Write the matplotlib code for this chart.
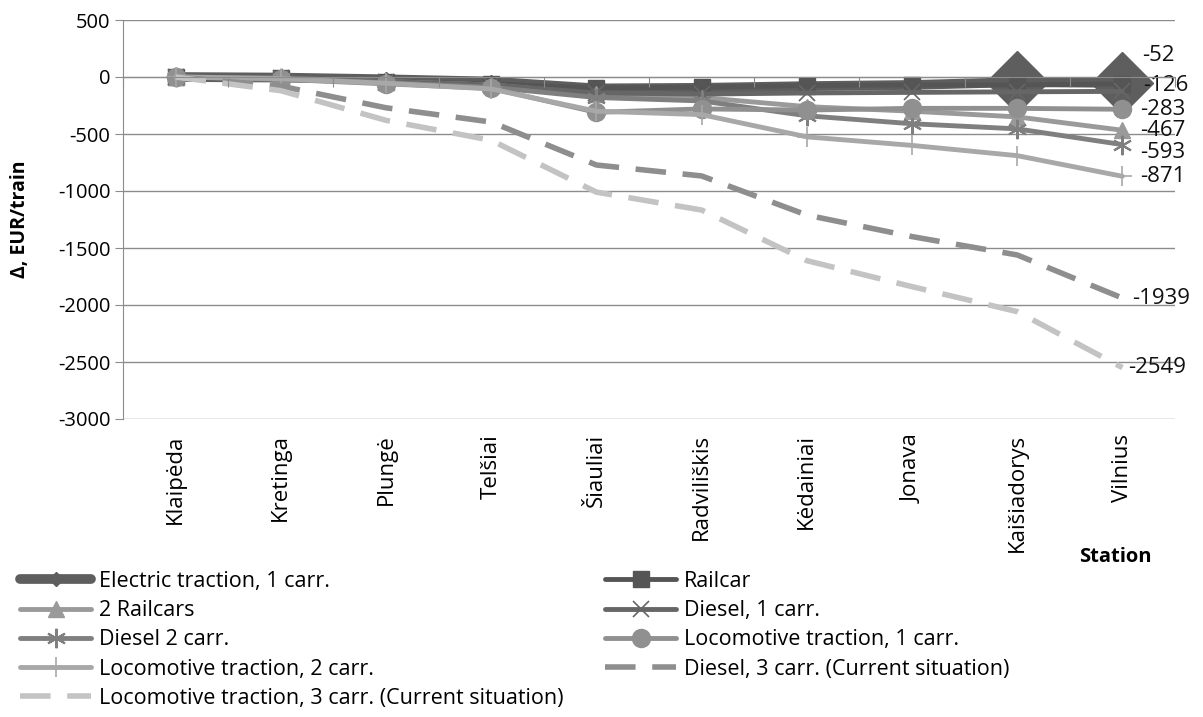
import matplotlib.pyplot as plt

stations = ["Klaipėda", "Kretinga", "Plungė", "Telšiai", "Šiauliai",
            "Radviliškis", "Kėdainiai", "Jonava", "Kaišiadorys", "Vilnius"]

electric_1 = [0, -5, -20, -40, -100, -95, -80, -70, -45, -52]
railcar = [0, -10, -40, -60, -95, -90, -75, -70, -70, -60]
railcars_2 = [0, -10, -40, -70, -150, -180, -260, -300, -350, -467]
diesel_1 = [0, -10, -40, -70, -140, -150, -140, -135, -130, -126]
diesel_2 = [0, -10, -50, -90, -180, -210, -340, -410, -455, -593]
loco_1 = [0, -20, -60, -100, -310, -280, -290, -275, -275, -283]
loco_2 = [0, -15, -55, -105, -300, -330, -525, -600, -690, -871]
diesel_3 = [0, -80, -270, -395, -772, -868, -1211, -1400, -1561, -1939]
loco_3 = [0, -120, -380, -555, -1010, -1167, -1611, -1839, -2058, -2549]

labels = ["Electric traction, 1 carr.", "Railcar", "2 Railcars", "Diesel, 1 carr.",
          "Diesel 2 carr.", "Locomotive traction, 1 carr.", "Locomotive traction, 2 carr.",
          "Diesel, 3 carr. (Current situation)", "Locomotive traction, 3 carr. (Current situation)"]

end_labels = ["-52", "-126", "-283", "-467", "-593", "-871", "-1939", "-2549"]

plt.rcParams["font.family"] = ["Open Sans", "DejaVu Sans"]
plt.rcParams["axes.unicode_minus"] = False

fig = plt.figure(figsize=(12.03, 7.17), dpi=100)
ax = fig.add_axes([123 / 1203, 1 - 419 / 717, 1052 / 1203, 399 / 717])

x = list(range(len(stations)))

# series styles: (data, color, lw, marker, ms, mew, dashes)
styles = [
    (electric_1, "#5e5e5e", 7, "D", 7, 1, None),
    (railcar, "#555555", 3.5, "s", 11, 1, None),
    (railcars_2, "#9a9a9a", 3.5, "^", 12, 1, None),
    (diesel_1, "#666666", 3.5, "x", 11, 1.2, None),
    (diesel_2, "#7f7f7f", 3.5, (6, 2, 0), 14, 1.5, None),
    (loco_1, "#909090", 3.5, "o", 13, 1, None),
    (loco_2, "#a8a8a8", 3.5, "+", 15, 1.2, None),
    (diesel_3, "#8e8e8e", 4, None, 0, 1, (5.5, 3)),
    (loco_3, "#c3c3c3", 4, None, 0, 1, (5.5, 3)),
]

handles = []
for (data, color, lw, marker, ms, mew, dashes), lab in zip(styles, labels):
    kw = dict(color=color, lw=lw, marker=marker, ms=ms, mew=mew,
              mfc=color, mec=color, solid_capstyle="round", label=lab)
    if dashes:
        kw["dashes"] = dashes
        kw["dash_capstyle"] = "butt"
    line, = ax.plot(x, data, **kw)
    handles.append(line)
    if data is electric_1:
        # enlarged markers on the last two stations
        ax.plot(x[-2:], data[-2:], ls="none", marker="D", ms=32,
                color=color, zorder=line.get_zorder())

# end value labels
labelled = [electric_1, diesel_1, loco_1, railcars_2, diesel_2, loco_2, diesel_3, loco_3]
offsets = [(14, 20), (15, 4), (13, 0), (13, 0), (13, -6), (13, 0), (7, 0), (4, 0)]
for data, txt, off in zip(labelled, end_labels, offsets):
    ax.annotate(txt, (x[-1], data[-1]), xytext=off, textcoords="offset points",
                ha="left", va="center", fontsize=16, color="#111111",
                family=["Liberation Sans Narrow", "Open Sans"], annotation_clip=False)

ax.set_xlim(-0.5, 9.5)
ax.set_ylim(-3000, 500)
ax.set_yticks(range(-3000, 501, 500))
ax.grid(axis="y", color="#8c8c8c", lw=1)
ax.set_axisbelow(True)
for s in ["top", "right", "bottom"]:
    ax.spines[s].set_visible(False)
ax.spines["left"].set_color("#8c8c8c")
ax.tick_params(axis="y", length=6, color="#8c8c8c", labelsize=14.5, pad=3)
ax.set_xticks(x)
ax.set_xticklabels(stations, rotation=90, va="top", fontsize=16)
ax.tick_params(axis="x", length=0, pad=11)
ax.set_ylabel("Δ, EUR/train", fontsize=14, fontweight="bold", labelpad=20)

# category axis at zero with ticks between stations
ax2 = ax.twiny()
ax2.set_xlim(ax.get_xlim())
ax2.xaxis.set_ticks_position("bottom")
ax2.spines["bottom"].set_position(("data", 0))
ax2.spines["bottom"].set_color("#8c8c8c")
for s in ["top", "right", "left"]:
    ax2.spines[s].set_visible(False)
ax2.set_xticks([i - 0.5 for i in range(len(stations) + 1)])
ax2.set_xticklabels([])
ax2.tick_params(axis="x", length=7, color="#8c8c8c", direction="out")

fig.text(1115 / 1203, 1 - 557 / 717, "Station", fontsize=14.5, fontweight="bold",
         ha="center", va="center")

leg_kw = dict(frameon=False, fontsize=15.5, handlelength=3.3, handletextpad=0.35,
              labelspacing=0.38, borderpad=0, borderaxespad=0, loc="upper left")
left = [handles[i] for i in (0, 2, 4, 6, 8)]
right = [handles[i] for i in (1, 3, 5, 7)]
fig.legend(left, [h.get_label() for h in left],
           bbox_to_anchor=(20 / 1203, 1 - 571 / 717), **leg_kw)
fig.legend(right, [h.get_label() for h in right],
           bbox_to_anchor=(605 / 1203, 1 - 571 / 717), **leg_kw)

fig.savefig("out.png", dpi=100)
